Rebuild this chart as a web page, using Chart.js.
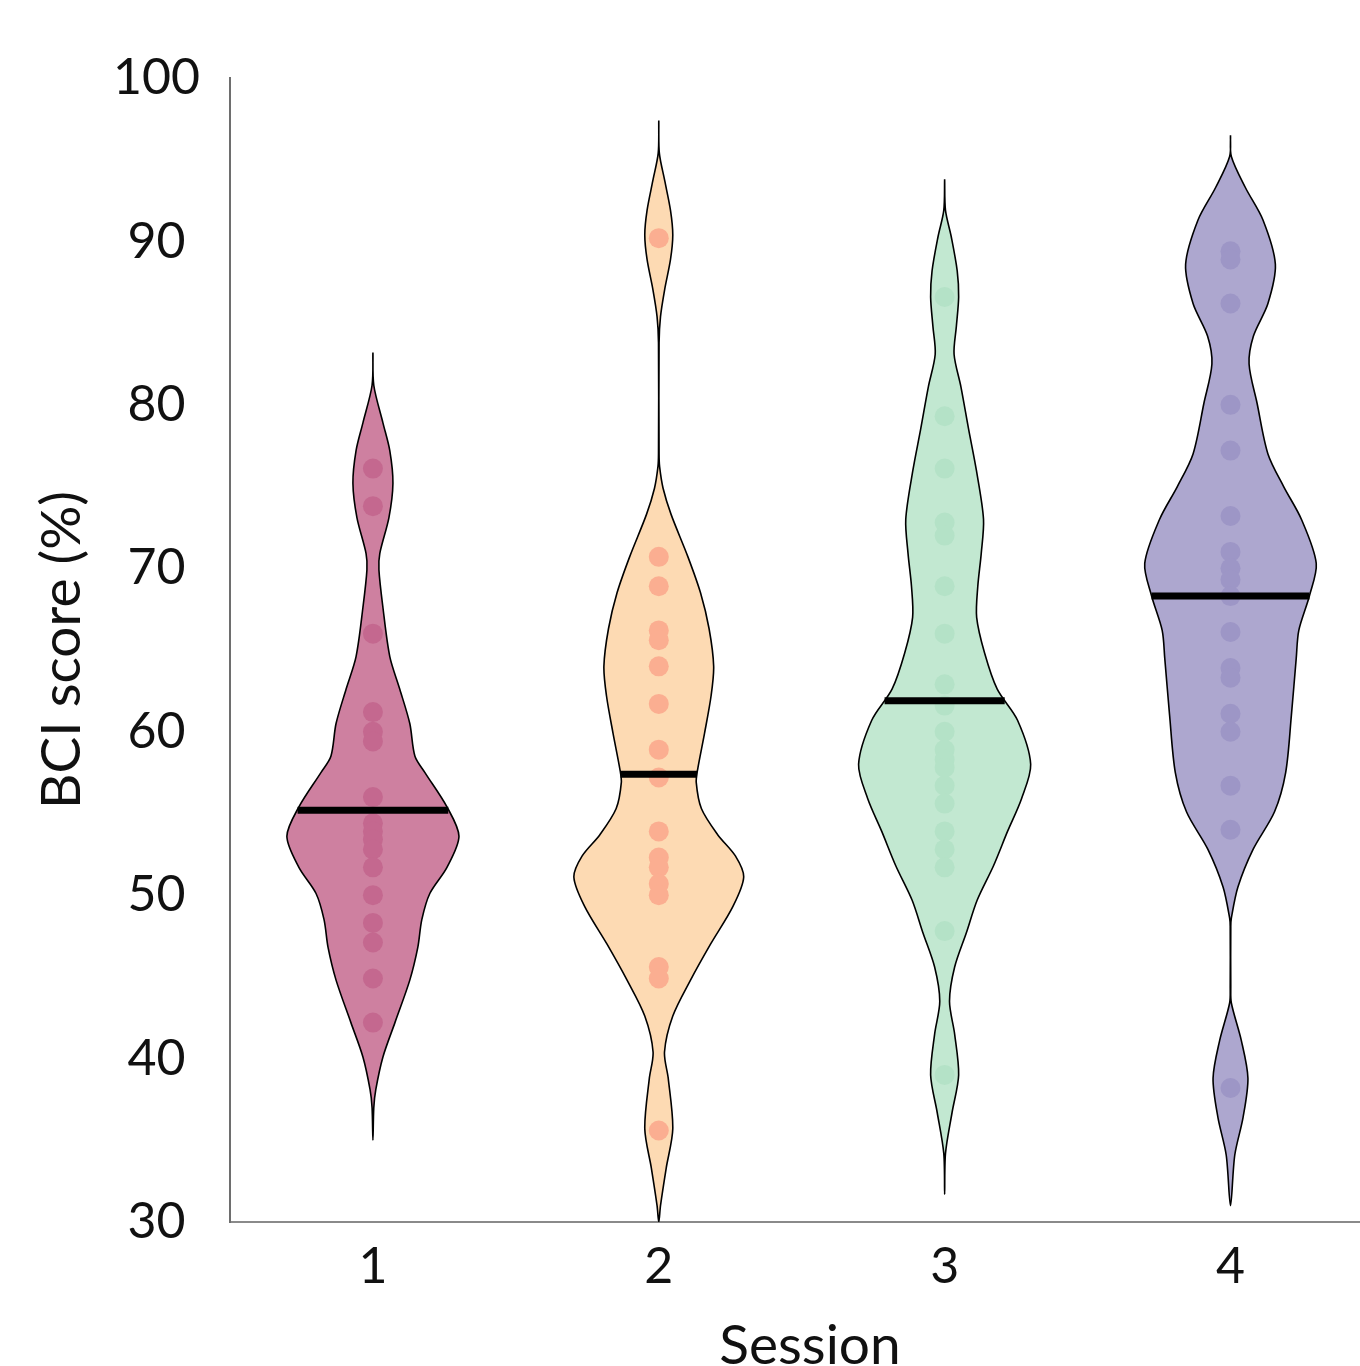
<!DOCTYPE html>
<html>
<head>
<meta charset="utf-8">
<script src="https://cdn.jsdelivr.net/npm/chart.js@4/dist/chart.umd.min.js"></script>
<style>
  html, body { margin: 0; padding: 0; background: #fff; overflow: hidden; }
  canvas { display: block; }
</style>
</head>
<body>
<canvas id="c" width="1400" height="1366"></canvas>
<script>
/* Violin plot — BCI score per session */
const SESSIONS = [1, 2, 3, 4];
const Y_TICKS = [30, 40, 50, 60, 70, 80, 90, 100];

// individual scores (dots)
const SCORES_1 = [76.1, 73.8, 66.0, 61.2, 60.0, 59.4, 56.0, 54.4, 53.9, 53.4, 52.8, 51.7, 50.0, 48.3, 47.1, 44.9, 42.2];
const SCORES_2 = [90.2, 70.7, 68.9, 66.2, 65.6, 64.0, 61.7, 58.9, 57.2, 53.9, 52.3, 51.7, 50.7, 50.0, 45.6, 44.9, 35.6];
const SCORES_3 = [86.6, 79.3, 76.1, 72.8, 72.0, 68.9, 66.0, 62.9, 61.6, 60.0, 58.9, 58.3, 57.8, 56.7, 55.6, 53.9, 52.8, 51.7, 47.8, 39.0];
const SCORES_4 = [89.4, 88.9, 86.2, 80.0, 77.2, 73.2, 71.0, 70.0, 69.3, 68.3, 66.1, 63.9, 63.3, 61.1, 60.0, 56.7, 54.0, 38.2];

// centre line of each violin
const MEDIANS = [55.2, 57.4, 61.9, 68.3];

// violin outlines: [score, half width in session units]
const VIOLIN_1 = [[83.2,0],[81.2,0.003],[78.9,0.035],[77.2,0.059],[75.2,0.070],[73.1,0.056],[70.9,0.024],[69.9,0.021],[67.6,0.035],[64.6,0.059],[62.6,0.094],[60.5,0.129],[58.5,0.147],[57.5,0.182],[55.4,0.259],[53.6,0.301],[51.7,0.259],[50.1,0.199],[48.5,0.171],[46.8,0.157],[44.8,0.129],[42.2,0.077],[40.1,0.035],[38.1,0.010],[37.0,0.003],[35.0,0]];
const VIOLIN_2 = [[97.4,0],[95.4,0.002],[93.7,0.021],[91.9,0.041],[90.4,0.049],[88.9,0.041],[87.1,0.021],[85.4,0.006],[83.8,0.001],[77.0,0.001],[76.2,0.003],[74.9,0.015],[73.3,0.043],[70.7,0.102],[68.5,0.146],[66.3,0.176],[64.0,0.192],[62.2,0.183],[59.9,0.160],[57.7,0.136],[56.9,0.131],[55.3,0.149],[53.7,0.206],[52.4,0.268],[51.1,0.297],[49.3,0.259],[47.0,0.181],[44.8,0.111],[42.6,0.049],[40.4,0.020],[38.8,0.033],[35.7,0.049],[33.3,0.026],[31.0,0.006],[30.0,0]];
const VIOLIN_3 = [[93.8,0],[91.9,0.003],[90.3,0.023],[88.2,0.044],[86.6,0.049],[84.8,0.041],[83.1,0.033],[81.1,0.057],[78.5,0.084],[76.0,0.111],[73.0,0.136],[70.9,0.128],[68.9,0.116],[67.0,0.112],[64.8,0.140],[62.6,0.184],[60.7,0.255],[58.0,0.301],[55.9,0.269],[53.9,0.220],[51.8,0.171],[49.7,0.114],[47.7,0.076],[45.6,0.035],[43.5,0.017],[41.5,0.035],[39.0,0.049],[36.7,0.026],[34.2,0.003],[31.7,0]];
const VIOLIN_4 = [[96.5,0],[95.2,0.003],[93.3,0.052],[91.3,0.114],[88.6,0.157],[86.2,0.131],[84.2,0.080],[82.5,0.065],[80.1,0.093],[77.0,0.131],[75.0,0.186],[73.0,0.248],[70.3,0.300],[68.3,0.276],[66.2,0.239],[64.5,0.230],[61.0,0.213],[57.5,0.193],[55.1,0.154],[52.8,0.079],[50.5,0.026],[48.6,0.003],[48.1,0.001],[44.4,0.001],[43.4,0.003],[41.1,0.038],[38.8,0.061],[36.4,0.044],[34.1,0.015],[31.0,0]];

const FILLS = ["#ce80a0", "#fddab3", "#c2e8d1", "#ada7cf"];
const DOTS  = ["#c4688f", "#fbae91", "#b4e2c7", "#9d96c6"];

const SCORES = [SCORES_1, SCORES_2, SCORES_3, SCORES_4];
const VIOLINS = [VIOLIN_1, VIOLIN_2, VIOLIN_3, VIOLIN_4];

Chart.defaults.font.family = "Lato, 'Open Sans', sans-serif";
Chart.defaults.color = "#111";

function outline(c, prof) {
  const right = prof.map(p => ({ x: c + p[1], y: p[0] }));
  const left = prof.slice(0, -1).reverse().map(p => ({ x: c - p[1], y: p[0] }));
  return right.concat(left);
}

function widthAt(prof, v) {
  for (let i = 0; i < prof.length - 1; i++) {
    const a = prof[i], b = prof[i + 1];
    if (v <= a[0] && v >= b[0]) return a[1] + (b[1] - a[1]) * (a[0] - v) / (a[0] - b[0]);
  }
  return 0;
}

const datasets = [];
SESSIONS.forEach((s, i) => {
  datasets.push({
    type: "line", data: outline(s, VIOLINS[i]),
    borderColor: "#000", borderWidth: 1.6, backgroundColor: FILLS[i],
    fill: "shape", tension: 0.3, pointRadius: 0, order: 3,
  });
  datasets.push({
    type: "scatter", data: SCORES[i].map(v => ({ x: s, y: v })),
    pointRadius: 10, pointBackgroundColor: DOTS[i], pointBorderWidth: 0, order: 2,
  });
  const hw = widthAt(VIOLINS[i], MEDIANS[i]);
  datasets.push({
    type: "line", data: [{ x: s - hw, y: MEDIANS[i] }, { x: s + hw, y: MEDIANS[i] }],
    borderColor: "#000", borderWidth: 7, borderCapStyle: "butt", pointRadius: 0, fill: false, order: 1,
  });
});

new Chart(document.getElementById("c"), {
  type: "scatter",
  data: { datasets },
  options: {
    responsive: false,
    animation: false,
    events: [],
    layout: { padding: { top: 78, left: 0, right: 0, bottom: 0 } },
    plugins: { legend: { display: false }, tooltip: { enabled: false } },
    scales: {
      x: {
        type: "linear", min: 0.5, max: 4.558,
        afterBuildTicks: s => { s.ticks = SESSIONS.map(v => ({ value: v })); },
        afterFit: s => { s.height = 144; },
        grid: { display: false, drawTicks: false, tickLength: 0 },
        border: { display: true, color: "#8a8a8a", width: 2 },
        ticks: { font: { size: 50 }, padding: 15, color: "#111" },
        title: { display: true, text: "Session", font: { size: 55, lineHeight: 1 }, padding: { top: 0, bottom: -8 }, color: "#111" },
      },
      y: {
        min: 30, max: 100,
        afterBuildTicks: s => { s.ticks = Y_TICKS.map(v => ({ value: v })); },
        afterFit: s => { s.width = 230; },
        grid: { display: false, drawTicks: false, tickLength: 0 },
        border: { display: true, color: "#6e6e6e", width: 2 },
        ticks: { font: { size: 50 }, padding: 30, crossAlign: "center", color: "#111" },
        title: { display: true, text: "BCI score (%)", font: { size: 55, lineHeight: 1.2 }, padding: { top: 29, bottom: 0 }, color: "#111" },
      },
    },
  },
});
</script>
</body>
</html>
